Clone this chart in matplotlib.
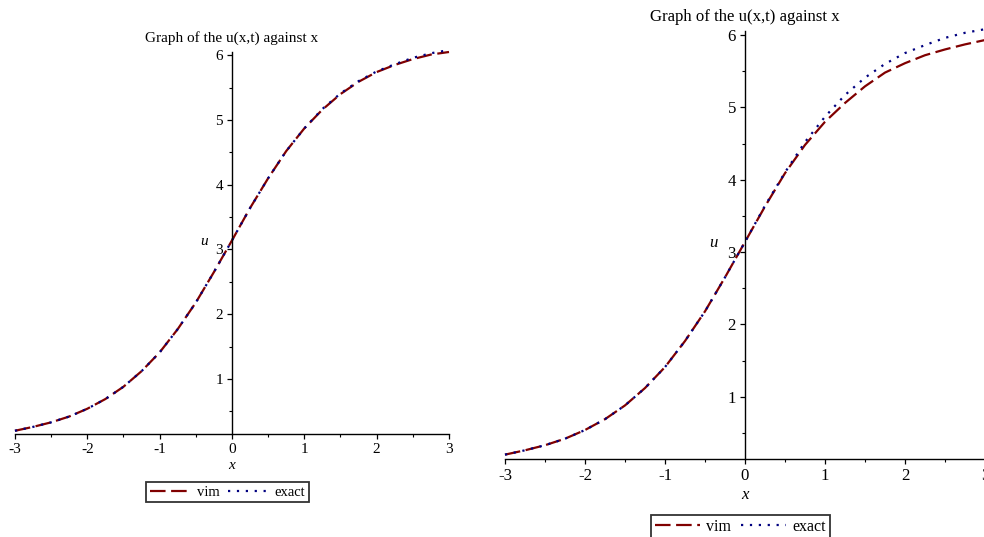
import matplotlib
matplotlib.use("Agg")
import matplotlib.pyplot as plt
from matplotlib.ticker import MultipleLocator

plt.rcParams["font.family"] = ["Liberation Serif", "DejaVu Serif"]
plt.rcParams["axes.unicode_minus"] = False

# values
xs = [-3.0, -2.75, -2.5, -2.25, -2.0, -1.75, -1.5, -1.25, -1.0, -0.75, -0.5, -0.25,
      0.0, 0.25, 0.5, 0.75, 1.0, 1.25, 1.5, 1.75, 2.0, 2.25, 2.5, 2.75, 3.0]

exact = [0.20, 0.26, 0.33, 0.42, 0.54, 0.69, 0.88, 1.12, 1.41, 1.77, 2.18, 2.65,
         3.14, 3.64, 4.10, 4.52, 4.87, 5.17, 5.41, 5.60, 5.75, 5.86, 5.96, 6.03, 6.08]

vim_left = [0.20, 0.26, 0.33, 0.42, 0.54, 0.69, 0.88, 1.12, 1.41, 1.77, 2.18, 2.65,
            3.14, 3.64, 4.10, 4.52, 4.87, 5.16, 5.40, 5.59, 5.74, 5.85, 5.94, 6.01, 6.05]

vim_right = [0.20, 0.26, 0.33, 0.42, 0.54, 0.69, 0.88, 1.12, 1.41, 1.77, 2.18, 2.65,
             3.14, 3.63, 4.09, 4.48, 4.80, 5.06, 5.29, 5.48, 5.61, 5.72, 5.80, 5.87, 5.93]

title = "Graph of the u(x,t) against x"
vim_color = "#800000"
exact_color = "#000080"

fig = plt.figure(figsize=(9.84, 5.37), dpi=100)

# left panel, right panel (right one is a bit larger and runs off the edge)
panels = [
    dict(rect=[0.0152, 0.1918, 0.4411, 0.7114], ylim=(0.15, 6.05), vim=vim_left,
         fs=1.0, leg_y=-0.125),
    dict(rect=[0.5132, 0.1453, 0.4878, 0.7963], ylim=(0.14, 6.05), vim=vim_right,
         fs=1.1, leg_y=-0.131),
]

for p in panels:
    s = p["fs"]
    ax = fig.add_axes(p["rect"])
    ax.plot(xs, p["vim"], color=vim_color, lw=1.6, linestyle=(0, (7, 2.5)), label="vim",
            clip_on=False)
    ax.plot(xs, exact, color=exact_color, lw=1.6, linestyle=(0, (1, 3)), label="exact",
            clip_on=False)
    ax.set_xlim(-3, 3)
    ax.set_ylim(*p["ylim"])

    ax.spines["right"].set_visible(False)
    ax.spines["top"].set_visible(False)
    ax.spines["left"].set_position(("data", 0))
    for sp in ("left", "bottom"):
        ax.spines[sp].set_linewidth(1.0)

    ax.xaxis.set_major_locator(MultipleLocator(1))
    ax.xaxis.set_minor_locator(MultipleLocator(0.5))
    ax.yaxis.set_major_locator(MultipleLocator(1))
    ax.yaxis.set_minor_locator(MultipleLocator(0.5))
    ax.tick_params(which="major", length=3.5, width=0.9, labelsize=11 * s, pad=3)
    ax.tick_params(which="minor", length=2.5, width=0.8)
    ax.set_xticks([-3, -2, -1, 0, 1, 2, 3])
    ax.set_xticklabels(["-3", "-2", "-1", "0", "1", "2", "3"])
    ax.set_yticks([1, 2, 3, 4, 5, 6])

    ax.set_title(title, fontsize=11 * s, pad=7.5)
    ax.set_xlabel("x", style="italic", fontsize=11 * s, labelpad=2)
    ax.text(-0.39, 3.13, "u", style="italic", fontsize=11 * s, ha="center", va="center")

    leg = ax.legend(loc="upper center", bbox_to_anchor=(0.49, p["leg_y"]), ncol=2,
                    fontsize=10.5 * s, frameon=True, fancybox=False, borderpad=0.25,
                    handlelength=2.8, handletextpad=0.4, columnspacing=0.6,
                    borderaxespad=0)
    leg.get_frame().set_edgecolor("black")
    leg.get_frame().set_linewidth(1.3)

fig.savefig("out.png", dpi=100)
